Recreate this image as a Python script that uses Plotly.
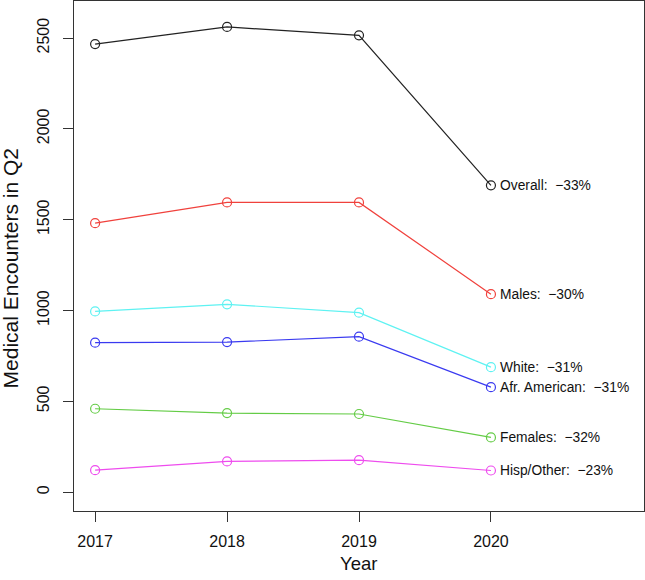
import plotly.graph_objects as go

years = [2017, 2018, 2019, 2020]
overall = [2467, 2561, 2515, 1689]
males = [1481, 1595, 1595, 1090]
white = [995, 1034, 988, 688]
afr_american = [823, 826, 856, 578]
females = [459, 435, 430, 301]
hisp_other = [121, 169, 176, 119]

series_names = ["Overall", "Males", "White", "Afr. American", "Females", "Hisp/Other"]
series_values = [overall, males, white, afr_american, females, hisp_other]
series_changes = ["−33%", "−30%", "−31%", "−31%", "−32%", "−23%"]
series_colors = ["#222222", "#F0413C", "#5EF2F2", "#3A3AF0", "#64CC46", "#EE4CEE"]

y_ticks = [0, 500, 1000, 1500, 2000, 2500]

FONT = "Liberation Sans, Arial, Helvetica, sans-serif"

fig = go.Figure()
for name, vals, col in zip(series_names, series_values, series_colors):
    fig.add_trace(go.Scatter(
        x=years, y=vals, mode="lines+markers", name=name,
        line=dict(color=col, width=1.2),
        marker=dict(symbol="circle-open", size=9, color=col, line=dict(width=1.2, color=col)),
        showlegend=False,
    ))

annotations = []
for name, vals, chg in zip(series_names, series_values, series_changes):
    annotations.append(dict(
        x=years[-1], y=vals[-1], xref="x", yref="y",
        text=f"{name}:  {chg}", showarrow=False, xanchor="left", yanchor="middle",
        xshift=7, font=dict(family=FONT, size=13.8, color="#111"),
    ))

# axis titles
annotations.append(dict(
    x=-0.112, y=0.476, xref="paper", yref="paper", text="Medical Encounters in Q2",
    showarrow=False, textangle=-90, xanchor="center", yanchor="middle",
    font=dict(family=FONT, size=21, color="#111"),
))
annotations.append(dict(
    x=(358 - 74) / (644 - 74), y=-0.103, xref="paper", yref="paper", text="Year",
    showarrow=False, xanchor="center", yanchor="middle",
    font=dict(family=FONT, size=18.5, color="#111"),
))

fig.update_layout(
    width=645, height=580,
    margin=dict(l=74, r=1, t=1, b=69),
    paper_bgcolor="white", plot_bgcolor="white",
    font=dict(family=FONT, color="#111"),
    annotations=annotations,
)

fig.update_xaxes(
    range=[2016.84, 2021.16], tickvals=years, ticktext=[str(y) for y in years],
    showgrid=False, zeroline=False, showline=True, mirror=True,
    linecolor="#333", linewidth=1, ticks="outside", ticklen=10, tickcolor="#333",
    tickfont=dict(family=FONT, size=16, color="#111"), ticklabelstandoff=6,
)
fig.update_yaxes(
    range=[-104, 2704], tickvals=y_ticks, ticktext=[str(v) for v in y_ticks],
    showgrid=False, zeroline=False, showline=True, mirror=True,
    linecolor="#333", linewidth=1, ticks="outside", ticklen=10, tickcolor="#333",
    tickangle=-90, tickfont=dict(family=FONT, size=16, color="#111"), ticklabelstandoff=8,
)

fig.write_html(
    "out.html",
    config={"displayModeBar": False},
    post_script="document.body.style.margin='0';document.body.style.overflow='hidden';",
)
